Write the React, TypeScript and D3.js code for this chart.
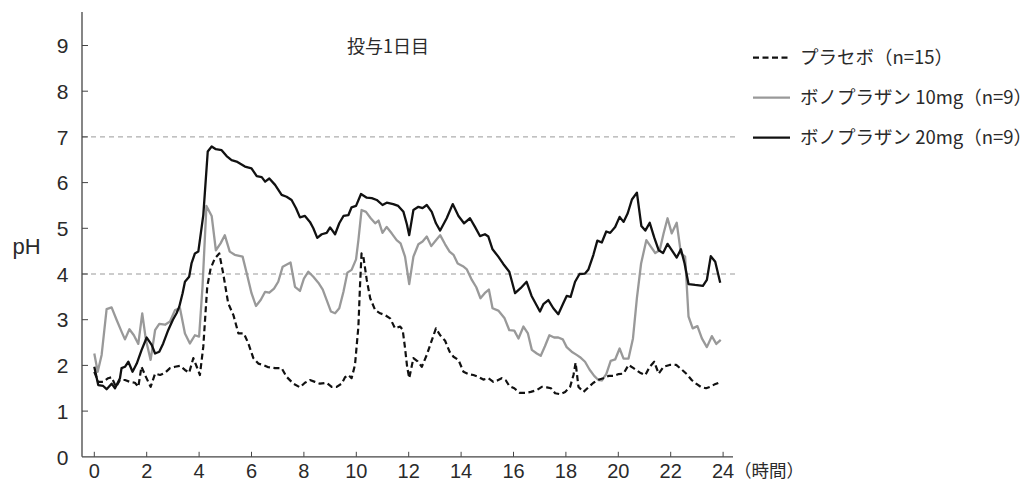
import React from "react";
import * as d3 from "d3";

// Gastric pH over 24 h on day 1 — [hour, pH]
const placebo: [number, number][] = [
  [0, 1.86], [0.15, 1.64], [0.34, 1.64], [0.53, 1.72], [0.66, 1.74], [0.83, 1.53], [0.98, 1.68],
  [1.17, 1.68], [1.36, 1.64], [1.55, 1.62], [1.68, 1.53], [1.8, 1.97], [1.97, 1.75], [2.15, 1.53],
  [2.32, 1.82], [2.51, 1.79], [2.7, 1.84], [2.89, 1.94], [3.08, 1.97], [3.27, 1.99], [3.46, 1.9],
  [3.62, 1.84], [3.78, 2.16], [3.91, 1.97], [4.03, 1.79], [4.16, 2.41], [4.31, 3.72], [4.44, 4.12],
  [4.6, 4.34], [4.77, 4.45], [4.92, 4.01], [5.11, 3.36], [5.31, 3.1], [5.5, 2.7], [5.71, 2.7],
  [5.88, 2.48], [6.07, 2.16], [6.26, 2.04], [6.45, 2.01], [6.64, 1.96], [6.9, 1.94], [7.15, 1.94],
  [7.34, 1.75], [7.6, 1.6], [7.85, 1.52], [8.04, 1.62], [8.23, 1.68], [8.42, 1.64], [8.61, 1.6],
  [8.87, 1.62], [9.06, 1.53], [9.25, 1.53], [9.44, 1.6], [9.57, 1.74], [9.7, 1.79], [9.82, 1.72],
  [9.95, 2.01], [10.08, 2.85], [10.14, 3.72], [10.2, 4.45], [10.27, 4.38], [10.4, 3.87], [10.53, 3.47],
  [10.72, 3.21], [10.91, 3.14], [11.1, 3.1], [11.29, 3.03], [11.48, 2.81], [11.67, 2.85], [11.77, 2.78],
  [11.86, 2.38], [11.94, 1.97], [12.02, 1.72], [12.18, 2.16], [12.34, 2.09], [12.5, 1.97], [12.69, 2.23],
  [12.84, 2.48], [13.04, 2.81], [13.2, 2.66], [13.39, 2.54], [13.56, 2.3], [13.71, 2.19], [13.9, 2.12],
  [14.09, 1.86], [14.28, 1.81], [14.47, 1.79], [14.66, 1.75], [14.85, 1.69], [15.04, 1.72], [15.23, 1.64],
  [15.38, 1.67], [15.55, 1.72], [15.71, 1.67], [15.84, 1.55], [16.03, 1.5], [16.24, 1.4], [16.45, 1.4],
  [16.66, 1.42], [16.89, 1.46], [17.08, 1.53], [17.27, 1.52], [17.43, 1.5], [17.59, 1.39], [17.78, 1.37],
  [17.97, 1.42], [18.16, 1.53], [18.29, 1.79], [18.37, 2.06], [18.48, 1.53], [18.67, 1.42], [18.86, 1.52],
  [19.05, 1.62], [19.27, 1.69], [19.43, 1.72], [19.63, 1.77], [19.82, 1.77], [20.01, 1.81], [20.2, 1.82],
  [20.39, 2.01], [20.58, 1.94], [20.83, 1.84], [21.03, 1.79], [21.2, 1.97], [21.37, 2.08], [21.54, 1.82],
  [21.73, 1.97], [21.96, 2.01], [22.21, 2.01], [22.42, 1.91], [22.61, 1.81], [22.8, 1.68], [22.97, 1.6],
  [23.15, 1.53], [23.35, 1.5], [23.5, 1.53], [23.66, 1.58], [23.83, 1.62],
];

const vono10: [number, number][] = [
  [0, 2.26], [0.13, 1.86], [0.28, 2.23], [0.47, 3.23], [0.66, 3.27], [0.85, 3.0], [1.04, 2.74],
  [1.17, 2.57], [1.34, 2.79], [1.51, 2.66], [1.68, 2.47], [1.83, 3.14], [1.97, 2.56], [2.15, 2.12],
  [2.32, 2.77], [2.48, 2.91], [2.7, 2.89], [2.89, 2.96], [3.08, 3.21], [3.27, 3.25], [3.46, 2.7],
  [3.65, 2.48], [3.84, 2.66], [4.0, 2.63], [4.13, 3.72], [4.28, 5.49], [4.48, 5.27], [4.64, 4.52],
  [4.82, 4.67], [4.98, 4.85], [5.17, 4.49], [5.36, 4.42], [5.66, 4.38], [5.82, 4.01], [6.0, 3.58],
  [6.17, 3.3], [6.35, 3.43], [6.52, 3.61], [6.68, 3.59], [6.86, 3.68], [7.02, 3.83], [7.19, 4.16],
  [7.49, 4.25], [7.66, 3.72], [7.85, 3.63], [8.0, 3.9], [8.17, 4.05], [8.36, 3.94], [8.55, 3.81],
  [8.72, 3.66], [8.87, 3.43], [9.03, 3.18], [9.19, 3.14], [9.35, 3.25], [9.51, 3.61], [9.66, 4.03],
  [9.82, 4.09], [9.99, 4.32], [10.08, 4.74], [10.2, 5.4], [10.37, 5.36], [10.55, 5.22], [10.72, 5.11],
  [10.85, 5.17], [11.0, 4.9], [11.16, 5.03], [11.35, 4.89], [11.54, 4.74], [11.69, 4.67], [11.86, 4.38],
  [12.02, 3.78], [12.18, 4.38], [12.37, 4.65], [12.53, 4.71], [12.69, 4.82], [12.86, 4.61], [13.04, 4.74],
  [13.2, 4.85], [13.39, 4.65], [13.56, 4.49], [13.71, 4.42], [13.87, 4.23], [14.07, 4.17], [14.22, 4.1],
  [14.41, 3.87], [14.58, 3.71], [14.74, 3.47], [14.9, 3.58], [15.06, 3.66], [15.2, 3.25], [15.42, 3.2],
  [15.66, 3.03], [15.84, 2.77], [16.03, 2.76], [16.19, 2.59], [16.38, 2.85], [16.55, 2.7], [16.7, 2.34],
  [16.89, 2.26], [17.04, 2.21], [17.2, 2.42], [17.37, 2.66], [17.55, 2.61], [17.71, 2.61], [17.88, 2.57],
  [18.03, 2.4], [18.22, 2.3], [18.41, 2.23], [18.54, 2.18], [18.73, 2.08], [18.9, 1.91], [19.08, 1.77],
  [19.24, 1.68], [19.37, 1.67], [19.54, 1.81], [19.71, 2.1], [19.88, 2.13], [20.05, 2.37], [20.2, 2.15],
  [20.39, 2.15], [20.56, 2.59], [20.71, 3.47], [20.87, 4.23], [21.07, 4.74], [21.24, 4.6], [21.41, 4.46],
  [21.58, 4.52], [21.73, 4.89], [21.88, 5.22], [22.04, 4.89], [22.23, 5.12], [22.39, 4.45], [22.55, 4.38],
  [22.68, 3.07], [22.84, 2.81], [23.02, 2.86], [23.19, 2.59], [23.38, 2.4], [23.57, 2.64], [23.74, 2.47],
  [23.91, 2.56],
];

const vono20: [number, number][] = [
  [0, 1.97], [0.15, 1.57], [0.34, 1.55], [0.47, 1.48], [0.66, 1.6], [0.79, 1.5], [0.98, 1.72],
  [1.04, 1.94], [1.17, 1.97], [1.3, 2.08], [1.46, 1.86], [1.62, 2.04], [1.8, 2.33], [2.0, 2.61],
  [2.19, 2.45], [2.32, 2.26], [2.48, 2.3], [2.63, 2.48], [2.82, 2.77], [3.0, 3.0], [3.14, 3.14],
  [3.24, 3.28], [3.37, 3.58], [3.46, 3.83], [3.62, 3.94], [3.71, 4.23], [3.84, 4.45], [3.97, 4.49],
  [4.16, 5.29], [4.33, 6.68], [4.48, 6.79], [4.64, 6.73], [4.86, 6.71], [5.05, 6.58], [5.24, 6.49],
  [5.43, 6.46], [5.75, 6.35], [6.0, 6.31], [6.2, 6.14], [6.39, 6.12], [6.52, 6.02], [6.68, 6.09],
  [6.9, 5.95], [7.15, 5.73], [7.34, 5.69], [7.53, 5.62], [7.7, 5.44], [7.85, 5.24], [8.04, 5.27],
  [8.23, 5.14], [8.36, 5.0], [8.51, 4.79], [8.68, 4.87], [8.87, 4.9], [9.0, 5.02], [9.19, 4.87],
  [9.35, 5.11], [9.51, 5.27], [9.7, 5.29], [9.82, 5.46], [9.99, 5.49], [10.18, 5.75], [10.4, 5.67],
  [10.59, 5.66], [10.78, 5.62], [11.0, 5.51], [11.16, 5.56], [11.41, 5.53], [11.6, 5.49], [11.8, 5.36],
  [11.93, 5.09], [12.02, 4.85], [12.18, 5.4], [12.37, 5.47], [12.53, 5.44], [12.69, 5.51], [12.88, 5.36],
  [13.04, 5.11], [13.2, 4.95], [13.45, 5.22], [13.68, 5.53], [13.9, 5.27], [14.11, 5.11], [14.34, 5.22],
  [14.53, 5.03], [14.72, 4.83], [14.91, 4.87], [15.04, 4.82], [15.2, 4.54], [15.42, 4.38], [15.61, 4.22],
  [15.84, 4.05], [16.06, 3.58], [16.27, 3.69], [16.5, 3.83], [16.69, 3.52], [17.01, 3.18], [17.14, 3.34],
  [17.33, 3.43], [17.52, 3.25], [17.71, 3.12], [17.9, 3.36], [18.03, 3.52], [18.18, 3.5], [18.35, 3.83],
  [18.52, 4.0], [18.73, 4.01], [18.86, 4.1], [19.05, 4.42], [19.2, 4.73], [19.37, 4.69], [19.54, 4.93],
  [19.69, 4.9], [19.88, 5.03], [20.05, 5.25], [20.2, 5.14], [20.36, 5.33], [20.52, 5.63], [20.71, 5.78],
  [20.88, 5.05], [21.03, 4.95], [21.2, 5.12], [21.37, 4.8], [21.54, 4.52], [21.71, 4.46], [21.88, 4.66],
  [22.04, 4.52], [22.23, 4.36], [22.39, 4.54], [22.53, 4.23], [22.68, 3.78], [22.93, 3.76], [23.23, 3.74],
  [23.38, 3.87], [23.53, 4.39], [23.7, 4.27], [23.89, 3.81],
];

const xTicks = [0, 2, 4, 6, 8, 10, 12, 14, 16, 18, 20, 22, 24];
const yTicks = [0, 1, 2, 3, 4, 5, 6, 7, 8, 9];
const refLines = [4, 7];

const legendItems = [
  { label: "プラセボ（n=15）", color: "#111", dash: "6,3.5" },
  { label: "ボノプラザン 10mg（n=9）", color: "#999", dash: "" },
  { label: "ボノプラザン 20mg（n=9）", color: "#111", dash: "" },
];

const title = "投与1日目";
const xUnit = "（時間）";
const yLabel = "pH";

export default function App() {
  const W = 1034;
  const H = 488;
  const axisX = 82;
  const axisTop = 12;
  const axisRight = 733;
  const x = d3.scaleLinear().domain([0, 24]).range([94.3, 723.1]);
  const y = d3.scaleLinear().domain([0, 9]).range([456.8, 45.5]);
  const line = d3
    .line<[number, number]>()
    .x((d) => x(d[0]))
    .y((d) => y(d[1]));

  const font = "'Liberation Sans', Arial, sans-serif";
  const jpFont = "'Noto Sans CJK JP', 'Liberation Sans', sans-serif";
  const textColor = "#2a2a2a";

  return (
    <svg
      width={W}
      height={H}
      style={{ position: "absolute", left: 0, top: 0, background: "#fff" }}
    >
      {/* reference lines at pH 4 and pH 7 */}
      {refLines.map((v) => (
        <line
          key={v}
          x1={axisX}
          x2={737}
          y1={y(v)}
          y2={y(v)}
          stroke="#999"
          strokeWidth={1}
          strokeDasharray="5,4"
        />
      ))}

      {/* axes */}
      <line x1={axisX} x2={axisX} y1={axisTop} y2={y(0)} stroke="#444" strokeWidth={1.3} />
      <line x1={axisX} x2={axisRight} y1={y(0)} y2={y(0)} stroke="#444" strokeWidth={1.3} />

      {yTicks.map((v) => (
        <g key={v}>
          {v > 0 && (
            <line x1={axisX} x2={axisX + 6} y1={y(v)} y2={y(v)} stroke="#444" strokeWidth={1} />
          )}
          <text
            x={68.5}
            y={y(v)}
            dy="0.37em"
            textAnchor="end"
            fontFamily={font}
            fontSize={21}
            fill={textColor}
          >
            {v}
          </text>
        </g>
      ))}

      {xTicks.map((t) => (
        <g key={t}>
          <line x1={x(t)} x2={x(t)} y1={y(0)} y2={y(0) - 5} stroke="#444" strokeWidth={1} />
          <text
            x={x(t)}
            y={478}
            textAnchor="middle"
            fontFamily={font}
            fontSize={20}
            fill={textColor}
          >
            {t}
          </text>
        </g>
      ))}

      <text x={734} y={477} fontFamily={jpFont} fontSize={17.5} fill={textColor}>
        {xUnit}
      </text>

      <text x={12.5} y={254} fontFamily={font} fontSize={22} fill={textColor}>
        {yLabel}
      </text>

      <text x={347} y={53} fontFamily={jpFont} fontSize={18} fill={textColor}>
        {title}
      </text>

      {/* series */}
      <path d={line(vono10) ?? ""} fill="none" stroke="#999" strokeWidth={2.3} strokeLinejoin="round" />
      <path d={line(vono20) ?? ""} fill="none" stroke="#111" strokeWidth={2.3} strokeLinejoin="round" />
      <path
        d={line(placebo) ?? ""}
        fill="none"
        stroke="#111"
        strokeWidth={2.2}
        strokeDasharray="6,3.5"
        strokeLinejoin="round"
      />

      {/* legend */}
      {legendItems.map((item, i) => {
        const ly = 57.7 + i * 40;
        return (
          <g key={item.label}>
            <line
              x1={753}
              x2={790}
              y1={ly}
              y2={ly}
              stroke={item.color}
              strokeWidth={2.3}
              strokeDasharray={item.dash || undefined}
            />
            <text x={800} y={ly} dy="0.36em" fontFamily={jpFont} fontSize={18.5} fill={textColor}>
              {item.label}
            </text>
          </g>
        );
      })}
    </svg>
  );
}
